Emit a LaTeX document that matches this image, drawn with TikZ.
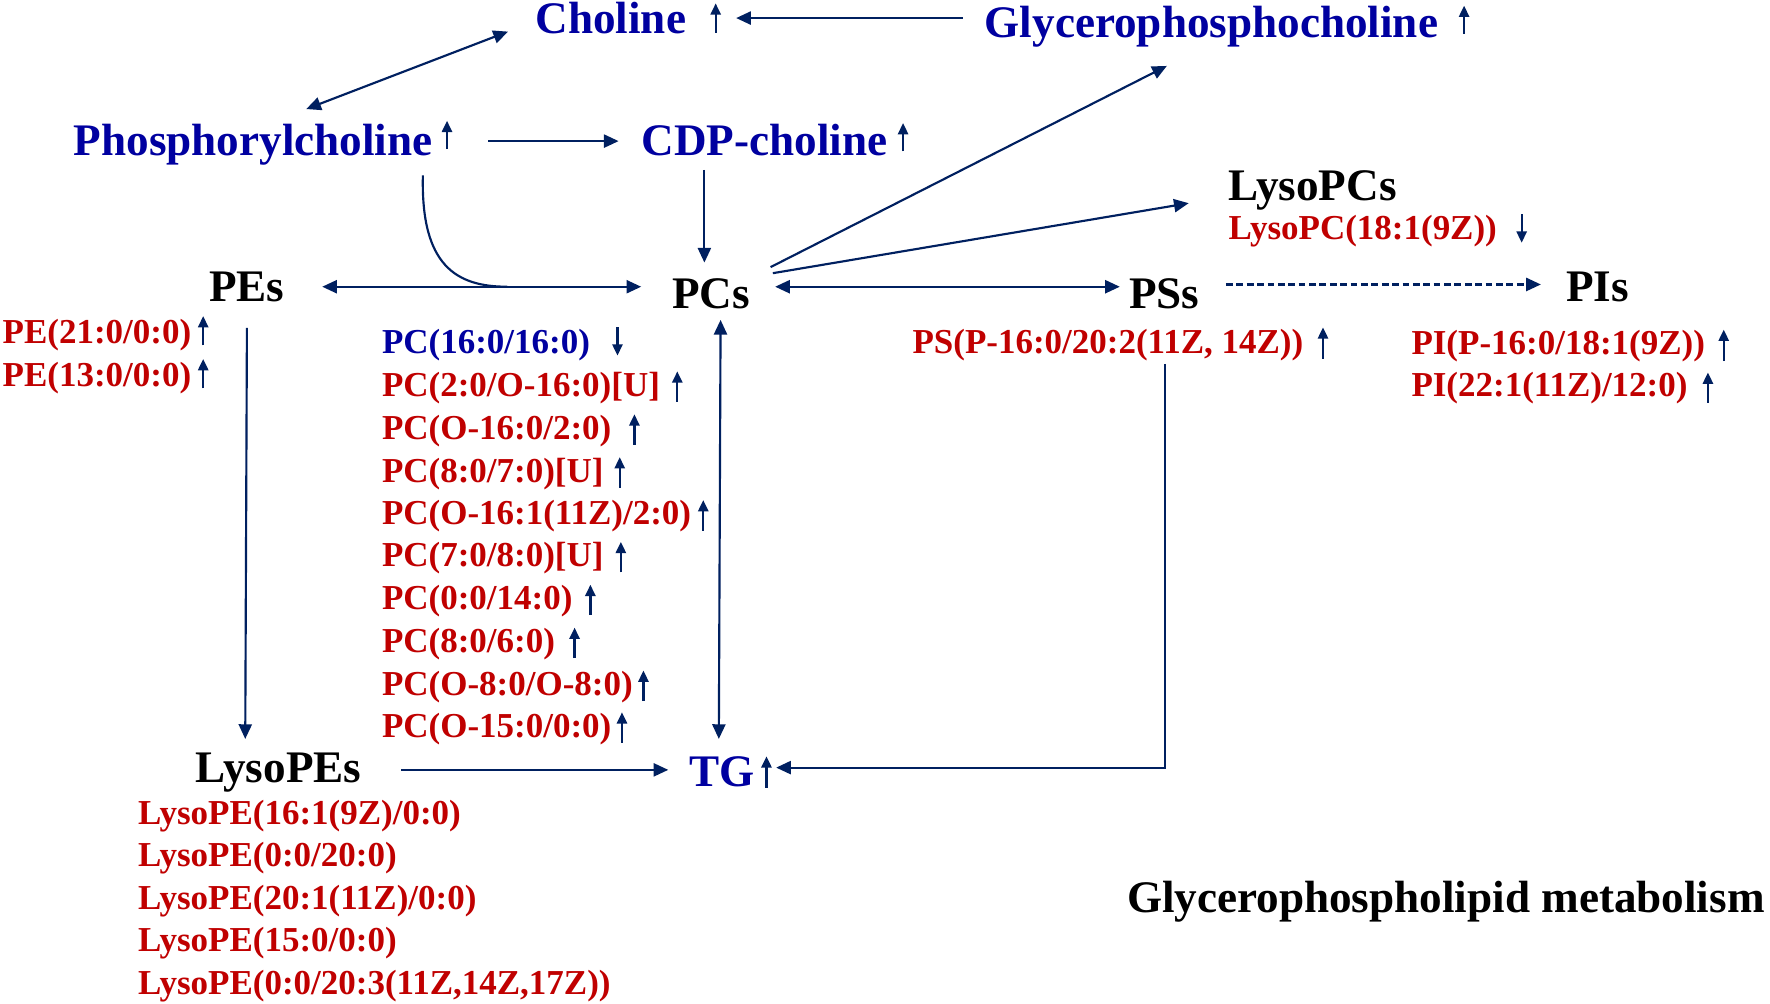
\documentclass[tikz,border=0pt]{standalone}
\usepackage{fontspec}
\setmainfont{Liberation Serif}
\usetikzlibrary{arrows.meta,calc}
\definecolor{navy}{RGB}{0,32,96}
\definecolor{tblue}{RGB}{0,0,160}
\definecolor{tred}{RGB}{192,0,0}
\begin{document}
\begin{tikzpicture}[x=0.5pt,y=-0.5pt,
 big/.style={font=\fontsize{20}{24}\selectfont\bfseries, inner sep=0pt, anchor=base west, text height=14pt, text depth=4pt},
 sml/.style={font=\fontsize{15.5}{18}\selectfont\bfseries, inner sep=0pt, anchor=base west, text height=11pt, text depth=3pt, text=tred},
 arr/.style={navy, line width=0.95pt, -{Triangle[length=6.5pt,width=5.8pt]}},
 darr/.style={navy, line width=0.95pt, {Triangle[length=6.5pt,width=5.8pt]}-{Triangle[length=6.5pt,width=5.8pt]}},
 ua/.style={navy, line width=1pt, -{Triangle[length=5pt,width=4.5pt]}}]
\useasboundingbox[fill=white] (0,0) rectangle (1568,889);

% main nodes
\node[big,text=tblue] (chol) at (474,30) {Choline};
\node[big,text=tblue] (glyc) at (872,33) {Glycerophosphocholine};
\node[big,text=tblue] (phos) at (65,138) {Phosphorylcholine};
\node[big,text=tblue] (cdp) at (568,138) {CDP-choline};
\node[big] (pes) at (185,267) {PEs};
\node[big] (pcs) at (595,273) {PCs};
\node[big] (pss) at (1000,273) {PSs};
\node[big] (pis) at (1387,267) {PIs};
\node[big] (lysopcs) at (1088,178) {LysoPCs};
\node[big] (lysopes) at (173,693) {LysoPEs};
\node[big,text=tblue] (tg) at (610,697) {TG};
\node[big] (title) at (998,808) {Glycerophospholipid metabolism};

% metabolite labels
\node[sml] (lpc) at (1088,212) {LysoPC(18:1(9Z))};
\node[sml] (psl) at (808,313) {PS(P-16:0/20:2(11Z, 14Z))};
\node[sml] (pi1) at (1250,314) {PI(P-16:0/18:1(9Z))};
\node[sml] (pi2) at (1250,351) {PI(22:1(11Z)/12:0)};
\node[sml] (pe1) at (2,304) {PE(21:0/0:0)};
\node[sml] (pe2) at (2,342) {PE(13:0/0:0)};

\node[sml,text=tblue] (pc1) at (338,313) {PC(16:0/16:0)};
\node[sml] (pc2) at (338,351) {PC(2:0/O-16:0)[U]};
\node[sml] (pc3) at (338,389) {PC(O-16:0/2:0)};
\node[sml] (pc4) at (338,427) {PC(8:0/7:0)[U]};
\node[sml] (pc5) at (338,465) {PC(O-16:1(11Z)/2:0)};
\node[sml] (pc6) at (338,502) {PC(7:0/8:0)[U]};
\node[sml] (pc7) at (338,540) {PC(0:0/14:0)};
\node[sml] (pc8) at (338,578) {PC(8:0/6:0)};
\node[sml] (pc9) at (338,616) {PC(O-8:0/O-8:0)};
\node[sml] (pc10) at (338,653) {PC(O-15:0/0:0)};

\node[sml] (lpe1) at (122,730) {LysoPE(16:1(9Z)/0:0)};
\node[sml] (lpe2) at (122,768) {LysoPE(0:0/20:0)};
\node[sml] (lpe3) at (122,806) {LysoPE(20:1(11Z)/0:0)};
\node[sml] (lpe4) at (122,843) {LysoPE(15:0/0:0)};
\node[sml] (lpe5) at (122,881) {LysoPE(0:0/20:3(11Z,14Z,17Z))};

% connectors
\draw[arr] ($(glyc.west)+(-19,-7)$) -- ($(chol.east)+(44,-4)$);
\draw[darr] ($(phos.north)+(47,-13)$) -- ($(chol.west)+(-24,8)$);
\draw[arr] ($(phos.east)+(49,-3)$) -- ($(cdp.west)+(-20,-3)$);
\coordinate (cdpS) at ($(cdp.south west)+(56,4)$);
\coordinate (pcsN) at ($(pcs.north)+(0,-12)$);
\draw[arr] (cdpS) -- (cdpS |- pcsN);
\draw[darr] ($(pes.east)+(33,-3)$) coordinate (pepcL) -- ($(pcs.west)+(-27,-9)$) coordinate (pepcR);
\coordinate (join) at ($(pepcL)!0.58!(pepcR)$);
\draw[navy, line width=0.95pt] ($(phos.south east)+(-9,9)$) .. controls +(-2,80) and +(-45,0) .. (join);
\draw[arr] ($(pcs.north east)+(18,-8)$) -- ($(glyc.south)+(-39.5,17)$);
\draw[arr] ($(pcs.east)+(20,-21)$) -- ($(lysopcs.west)+(-35,12)$);
\draw[darr] ($(pcs.east)+(22,-9)$) -- ($(pss.west)+(-8,-9)$);
\draw[arr, dash pattern=on 3pt off 1.6pt] ($(pss.east)+(23,-11)$) -- ($(pis.west)+(-22,-5)$);
\draw[arr] ($(pes.south)+(0,15)$) -- ($(lysopes.north)+(-29.5,-10)$);
\draw[darr] ($(pcs.south)+(8.5,2)$) -- ($(tg.north)+(-2.5,-14)$);
\draw[arr] ($(lysopes.east)+(35,-1)$) -- ($(tg.west)+(-18,-5)$);
\draw[arr] ($(psl.south)+(50.5,3)$) |- ($(tg.east)+(19,-7)$);

% change indicators
\draw[ua] (634,29) -- (634,3);
\draw[ua] (1297,30) -- (1297,5);
\draw[ua] (396,132) -- (396,107);
\draw[ua] (800,134) -- (800,109);
\draw[ua] (679,698) -- (679,670);
\draw[ua] (1348,190) -- (1348,215);
\draw[ua] (1172,318) -- (1172,290);
\draw[ua] (1527,320) -- (1527,292);
\draw[ua] (1513,357) -- (1513,330);
\draw[ua] (180,306) -- (180,280);
\draw[ua] (180,344) -- (180,318);
\draw[ua] (547,290) -- (547,315);
\draw[ua] (600,356) -- (600,329);
\draw[ua] (562,394) -- (562,367);
\draw[ua] (549,432) -- (549,405);
\draw[ua] (623,470) -- (623,443);
\draw[ua] (550,507) -- (550,480);
\draw[ua] (523,545) -- (523,518);
\draw[ua] (509,583) -- (509,556);
\draw[ua] (570,621) -- (570,594);
\draw[ua] (551,658) -- (551,631);
\end{tikzpicture}
\end{document}
